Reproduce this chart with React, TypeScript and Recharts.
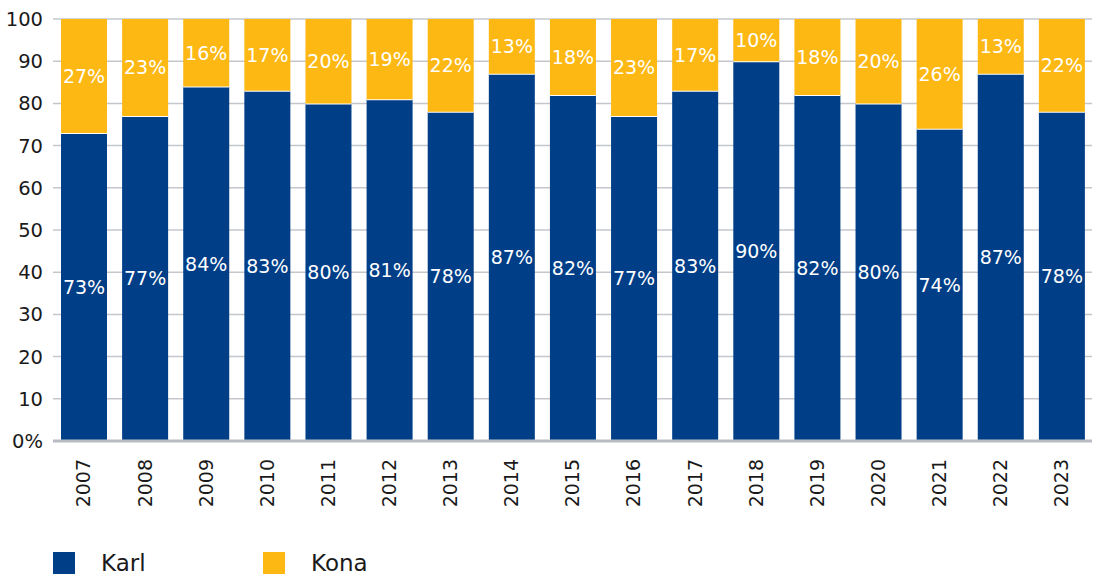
import React from 'react';
import { BarChart, Bar, XAxis, YAxis, CartesianGrid, LabelList } from 'recharts';

const years = ['2007', '2008', '2009', '2010', '2011', '2012', '2013', '2014', '2015', '2016', '2017', '2018', '2019', '2020', '2021', '2022', '2023'];
const karl = [73, 77, 84, 83, 80, 81, 78, 87, 82, 77, 83, 90, 82, 80, 74, 87, 78];
const kona = [27, 23, 16, 17, 20, 19, 22, 13, 18, 23, 17, 10, 18, 20, 26, 13, 22];
const yTicks = [0, 10, 20, 30, 40, 50, 60, 70, 80, 90, 100];

const BLUE = '#003E87';
const YELLOW = '#FDB813';
const FONT = '"DejaVu Sans", Verdana, sans-serif';

const data = years.map((year, i) => ({ year, karl: karl[i], kona: kona[i] }));

// blue bar with a thin white seam on its top edge
const KarlShape = (props: any) => {
  const { x, y, width, height } = props;
  return (
    <g>
      <rect x={x} y={y} width={width} height={height} fill={BLUE} />
      <line x1={x} x2={x + width} y1={y} y2={y} stroke="#fff" strokeWidth={2} />
    </g>
  );
};

const YearTick = ({ x, y, payload }: any) => (
  <text
    x={x}
    y={y}
    transform={`rotate(-90 ${x} ${y})`}
    textAnchor="end"
    dx={-10}
    dy="0.36em"
    fontSize={19}
    fill="#1a1a1a"
    fontFamily={FONT}
  >
    {payload.value}
  </text>
);

const LegendItem = ({ color, label, left }: { color: string; label: string; left: number }) => (
  <div style={{ position: 'absolute', left, top: 550, display: 'flex', alignItems: 'center' }}>
    <div style={{ width: 22, height: 22, background: color }} />
    <span style={{ marginLeft: 26, fontSize: 23, color: '#1a1a1a', fontFamily: FONT }}>{label}</span>
  </div>
);

export default function App() {
  return (
    <div style={{ position: 'absolute', left: 0, top: 0, width: 1096, height: 576, background: '#fff' }}>
      <BarChart
        width={1096}
        height={576}
        data={data}
        margin={{ top: 19, right: 4, bottom: 0, left: 0 }}
        barSize={46}
      >
        <CartesianGrid vertical={false} stroke="#c3c7cc" strokeWidth={1.5} />
        <XAxis
          dataKey="year"
          height={135}
          tickLine={false}
          axisLine={{ stroke: '#b9bdc3', strokeWidth: 3 }}
          tick={<YearTick />}
          interval={0}
        />
        <YAxis
          width={53}
          domain={[0, 100]}
          ticks={yTicks}
          tickLine={false}
          axisLine={false}
          tickMargin={4}
          tickFormatter={(v: number) => (v === 0 ? '0%' : String(v))}
          tick={{ fontSize: 19.5, fill: '#1a1a1a', fontFamily: FONT }}
        />
        <Bar dataKey="karl" stackId="a" fill={BLUE} shape={<KarlShape />} isAnimationActive={false}>
          <LabelList
            dataKey="karl"
            position="center"
            formatter={(v: any) => `${v}%`}
            fill="#fff"
            fontSize={19}
            fontFamily={FONT}
          />
        </Bar>
        <Bar dataKey="kona" stackId="a" fill={YELLOW} isAnimationActive={false}>
          <LabelList
            dataKey="kona"
            position="center"
            formatter={(v: any) => `${v}%`}
            fill="#fff"
            fontSize={19}
            fontFamily={FONT}
          />
        </Bar>
      </BarChart>
      <LegendItem color={BLUE} label="Karl" left={53} />
      <LegendItem color={YELLOW} label="Kona" left={263} />
    </div>
  );
}
